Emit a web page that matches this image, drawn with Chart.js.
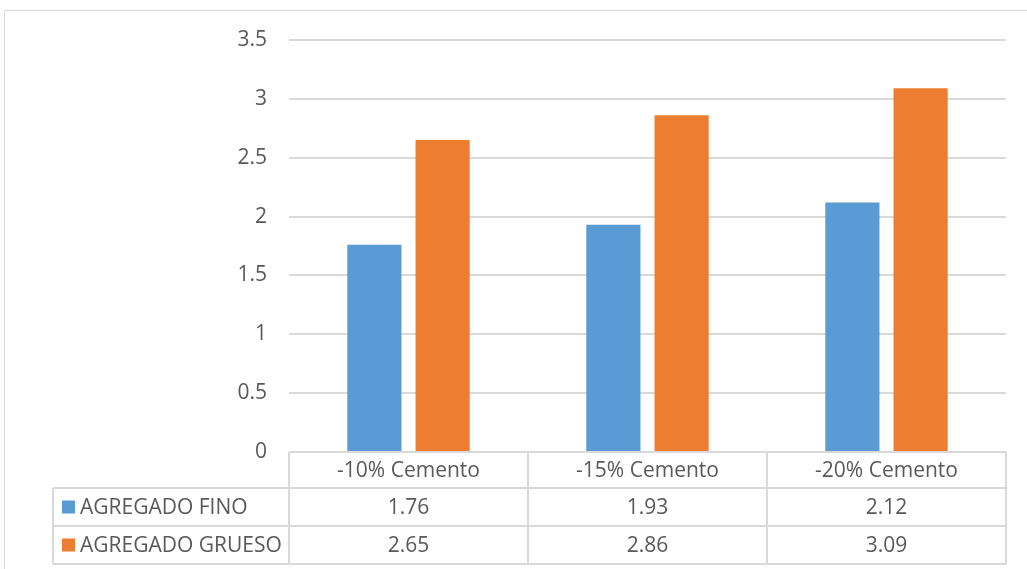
<!DOCTYPE html>
<html>
<head>
<meta charset="utf-8">
<script src="https://cdn.jsdelivr.net/npm/chart.js@4"></script>
<style>
html,body{margin:0;padding:0;background:#fff;}
#wrap{width:1027px;height:569px;position:relative;}
</style>
</head>
<body>
<div id="wrap"><canvas id="c" width="1027" height="569"></canvas></div>
<script>
const categories = ['-10% Cemento', '-15% Cemento', '-20% Cemento'];
const seriesNames = ['AGREGADO FINO', 'AGREGADO GRUESO'];
const fino = [1.76, 1.93, 2.12];
const grueso = [2.65, 2.86, 3.09];
const colors = ['#5B9BD5', '#ED7D31'];

const FONT = '"Open Sans", "Liberation Sans", sans-serif';
const TEXT = '#595959';
const LINE = '#d9d9d9';
const FSIZE = 21;

const tablePlugin = {
  id: 'dataTable',
  afterDraw(chart) {
    const ctx = chart.ctx;
    const ca = chart.chartArea;
    const x = chart.scales.x;
    const series = [fino, grueso];
    const n = categories.length;
    const colW = (ca.right - ca.left) / n;
    const labelLeft = 53;
    const rows = [ca.bottom, ca.bottom + 36, ca.bottom + 74, ca.bottom + 112];
    ctx.save();
    // outer chart border
    ctx.strokeStyle = LINE;
    ctx.lineWidth = 1;
    ctx.beginPath();
    ctx.moveTo(4.5, 569);
    ctx.lineTo(4.5, 10.5);
    ctx.lineTo(1027, 10.5);
    ctx.stroke();

    // table lines
    ctx.strokeStyle = LINE;
    ctx.lineWidth = 2;
    ctx.beginPath();
    ctx.moveTo(ca.left, rows[0]); ctx.lineTo(ca.right, rows[0]);
    for (let r = 1; r < rows.length; r++) {
      ctx.moveTo(labelLeft, rows[r]); ctx.lineTo(ca.right, rows[r]);
    }
    for (let i = 0; i <= n; i++) {
      const xx = ca.left + i * colW;
      ctx.moveTo(xx, rows[0]); ctx.lineTo(xx, rows[3]);
    }
    ctx.moveTo(labelLeft, rows[1]); ctx.lineTo(labelLeft, rows[3]);
    ctx.stroke();

    ctx.fillStyle = TEXT;
    ctx.font = FSIZE + 'px ' + FONT;
    ctx.textBaseline = 'middle';
    ctx.textAlign = 'center';
    categories.forEach((c, i) => {
      const cx = x.getPixelForValue(i);
      ctx.fillText(c, cx, (rows[0] + rows[1]) / 2 + 1);
      series.forEach((s, k) => {
        ctx.fillText(s[i].toFixed(2), cx, (rows[k + 1] + rows[k + 2]) / 2 + 1);
      });
    });
    ctx.textAlign = 'left';
    seriesNames.forEach((name, k) => {
      const cy = (rows[k + 1] + rows[k + 2]) / 2;
      ctx.fillStyle = colors[k];
      ctx.fillRect(62, cy - 6.5, 13, 13);
      ctx.fillStyle = TEXT;
      ctx.fillText(name, 80, cy + 1);
    });
    ctx.restore();
  }
};

new Chart(document.getElementById('c'), {
  type: 'bar',
  data: {
    labels: categories,
    datasets: [
      { label: seriesNames[0], data: fino, backgroundColor: colors[0], categoryPercentage: 0.571, barPercentage: 0.794 },
      { label: seriesNames[1], data: grueso, backgroundColor: colors[1], categoryPercentage: 0.571, barPercentage: 0.794 }
    ]
  },
  options: {
    responsive: false,
    animation: false,
    layout: { padding: { left: 0, top: 40, right: 21, bottom: 117 } },
    plugins: { legend: { display: false }, tooltip: { enabled: false } },
    scales: {
      x: { display: false },
      y: {
        min: 0, max: 3.5,
        ticks: { stepSize: 0.5, padding: 22, color: TEXT, font: { family: FONT, size: FSIZE },
                 callback: (v) => String(Math.round(v * 10) / 10) },
        grid: { color: LINE, lineWidth: 2, drawTicks: false },
        border: { display: false },
        afterFit(scale) { scale.width = 289; }
      }
    }
  },
  plugins: [tablePlugin]
});
</script>
</body>
</html>
